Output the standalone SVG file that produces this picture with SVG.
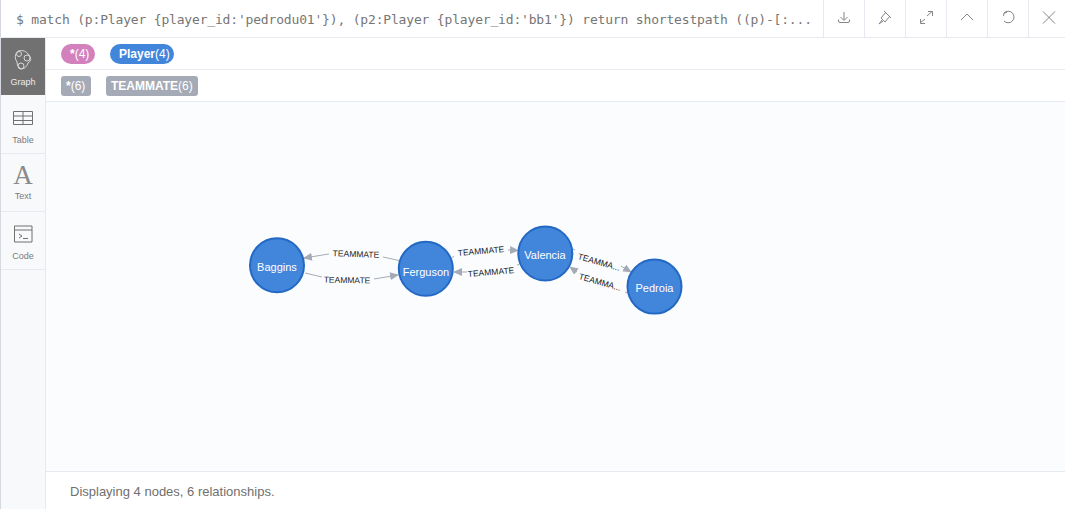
<svg xmlns="http://www.w3.org/2000/svg" width="1065" height="509" viewBox="0 0 1065 509">
<style>
.ui{font-family:"Liberation Sans",Arial,sans-serif}
.side{font-size:9px;fill:#7b7b7c;text-anchor:middle}
.sep{stroke:#e6e9ef;stroke-width:1;fill:none}
.ico{stroke:#858586;stroke-width:1;fill:none}
.node{fill:#4286dc;stroke:#2369c3;stroke-width:2}
.nl{font-size:11px;fill:#fff;text-anchor:middle}
.rl{font-size:8.500px;fill:#222;text-anchor:middle}
.rel{stroke:#a5abb6;stroke-width:1;fill:none}
.arr{marker-end:url(#a)}
.tag{font-size:12px;fill:#fff}
</style>
<defs>
<marker id="a" markerUnits="userSpaceOnUse" markerWidth="9" markerHeight="8" refX="8" refY="4" orient="auto"><path d="M0 0L9 4L0 8Z" fill="#a5abb6"/></marker>
</defs>
<rect width="1065" height="509" fill="#fff"/>
<rect x="46" y="102" width="1019" height="369" fill="#fbfcfe"/>
<rect x="0" y="38" width="46" height="471" fill="#f8f9fb"/>
<rect x="0" y="0" width="1" height="509" fill="#d5d8de"/>
<g id="editor">
<text x="16" y="24" font-family="'DejaVu Sans Mono',monospace" font-size="13" fill="#767676" textLength="796">$ match (p:Player {player_id:'pedrodu01'}), (p2:Player {player_id:'bb1'}) return shortestpath ((p)-[:...</text>
<path class="sep" d="M0 37.500H1065M45.500 38V509M46 69.500H1065M46 101.500H1065M46 471.500H1065M823.500 0V37M864.500 0V37M905.500 0V37M946.500 0V37M987.500 0V37M1028.500 0V37M1 153.500H46M1 211.500H46M1 269.500H46"/>
</g>
<g id="toolbar" class="ico">
<path d="M844 12V20M840.500 17L844 20.500L847.500 17M838.500 19.500V21Q838.500 22.500 840 22.500H848Q849.500 22.500 849.500 21V19.500"/>
<path d="M884 11L891 18M886 12L881 18L885 22L890 16M882 20L879 24L883 21"/>
<path d="M920 23L925 19M920.500 19V23.500H925M927 16L932 11.500M928 11.500H932.500V16"/>
<path d="M961 20L967 14L973 20"/>
<path d="M1004 13A5.800 5.800 0 1 1 1004 21M1004 13L1003.500 16M1004 13L1007 12.500"/>
<path d="M1043 11.500L1055 23.500M1055 11.500L1043 23.500"/>
</g>
<g id="tab-graph">
<rect x="1" y="38" width="44" height="57" fill="#717172"/>
<path d="M18 51Q25 49 29 55Q33 60 28 63Q26 69 21 69Q16 66 17 62Q13 56 18 51Z" fill="none" stroke="#d7d7d7"/>
<circle cx="19" cy="54" r="2.500" fill="none" stroke="#d7d7d7"/><circle cx="27" cy="58" r="3" fill="none" stroke="#d7d7d7"/><circle cx="21" cy="66" r="3" fill="none" stroke="#d7d7d7"/>
<text x="23" y="85" class="ui" font-size="9" fill="#ececec" text-anchor="middle">Graph</text>
</g>
<g id="tab-table">
<path class="ico" d="M13.500 111.500H32.500V124.500H13.500ZM13.500 116H32.500M13.500 120.500H32.500M23 111.500V124.500" stroke-width="1.200" style="stroke:#717172"/>
<text x="23" y="143" class="ui side">Table</text>
</g>
<g id="tab-text">
<text x="23" y="184" font-family="'Liberation Serif',serif" font-size="27" fill="#8a8a8b" text-anchor="middle">A</text>
<text x="23" y="199" class="ui side">Text</text>
</g>
<g id="tab-code">
<path class="ico" d="M14.500 226H32V242H14.500ZM14.500 230H32M19 234L22 236L19 238M23 238.500H28" style="stroke:#717172"/>
<text x="23" y="259" class="ui side">Code</text>
</g>
<g id="legend" class="ui">
<rect x="61" y="44" width="34" height="20" rx="10" fill="#d281bd"/>
<text x="70" y="58" class="tag"><tspan font-weight="700">*</tspan>(4)</text>
<rect x="110" y="44" width="64" height="20" rx="10" fill="#4286dc"/>
<text x="119" y="58" class="tag"><tspan font-weight="700">Player</tspan>(4)</text>
<rect x="61" y="76" width="30" height="20" rx="3" fill="#a5abb6"/>
<text x="66" y="90" class="tag"><tspan font-weight="700">*</tspan>(6)</text>
<rect x="106" y="76" width="92" height="20" rx="3" fill="#a5abb6"/>
<text x="111" y="90" class="tag"><tspan font-weight="700">TEAMMATE</tspan>(6)</text>
</g>
<g id="connectors">
<path class="rel arr" d="M329 254L304 258"/><path class="rel" d="M399 260.500L383 257"/>
<path class="rel" d="M305 273L322 277"/><path class="rel arr" d="M374 279L398 275"/>
<path class="rel" d="M452 257.500L454 256.500"/><path class="rel arr" d="M508 250L518 250.500"/>
<path class="rel" d="M517 265L519 264.500"/><path class="rel arr" d="M467 272L454 272"/>
<path class="rel" d="M573 249L575 250"/><path class="rel arr" d="M621 266L631 272"/>
<path class="rel" d="M625 292L627 293"/><path class="rel arr" d="M577 272L570 267"/>
</g>
<g class="ui rl">
<text x="356" y="257" transform="rotate(2 356 254)">TEAMMATE</text>
<text x="347" y="283" transform="rotate(1 347 280)">TEAMMATE</text>
<text x="481" y="254" transform="rotate(-5 481 251)">TEAMMATE</text>
<text x="491" y="275" transform="rotate(-5 491 272)">TEAMMATE</text>
<text x="599" y="265" transform="rotate(16 599 262)">TEAMMA...</text>
<text x="600" y="285" transform="rotate(16 600 282)">TEAMMA...</text>
</g>
<g id="n-baggins" class="ui"><circle class="node" cx="277" cy="265.300" r="27"/><text class="nl" x="277" y="271">Baggins</text></g>
<g id="n-ferguson" class="ui"><circle class="node" cx="425.800" cy="268.800" r="27"/><text class="nl" x="426" y="275.500">Ferguson</text></g>
<g id="n-valencia" class="ui"><circle class="node" cx="545.300" cy="253.500" r="27"/><text class="nl" x="545" y="259">Valencia</text></g>
<g id="n-pedroia" class="ui"><circle class="node" cx="654.500" cy="286.600" r="27"/><text class="nl" x="654.500" y="292">Pedroia</text></g>
<text x="70" y="496" class="ui" font-size="13" fill="#6f6f6f">Displaying 4 nodes, 6 relationships.</text>
</svg>
